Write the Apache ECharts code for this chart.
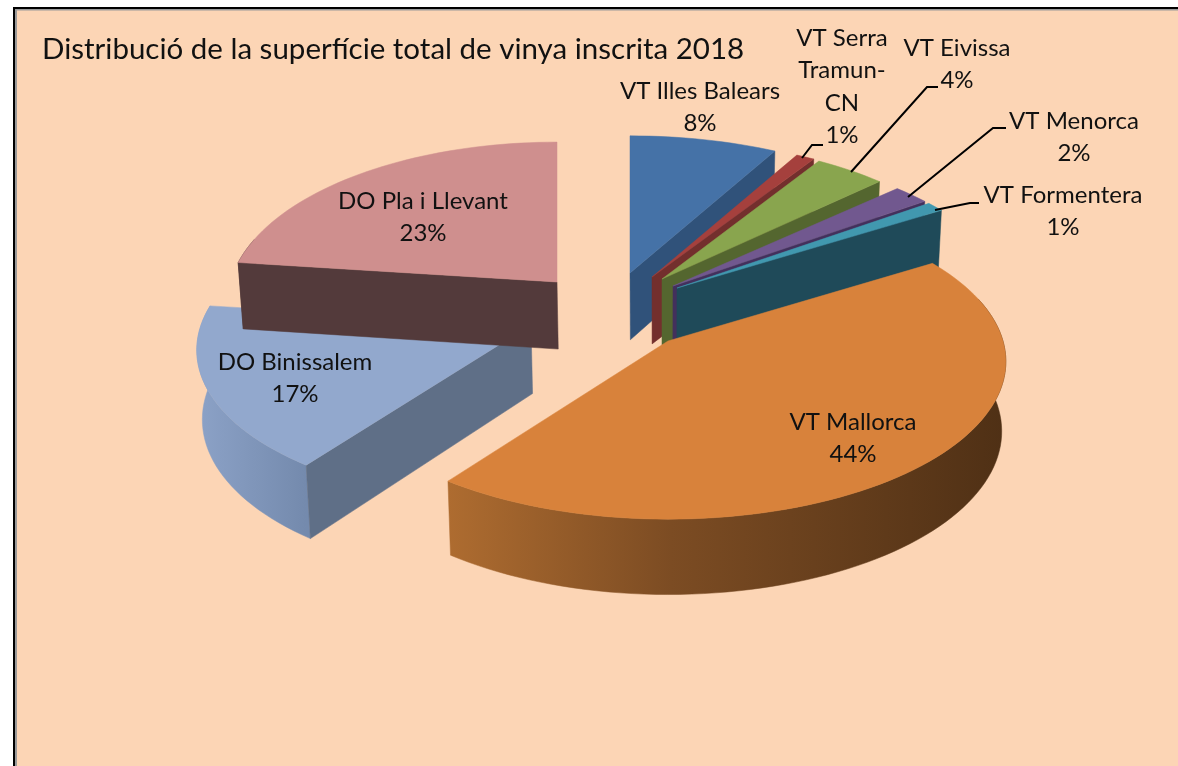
<!DOCTYPE html>
<html><head><meta charset="utf-8">
<style>html,body{margin:0;padding:0;background:#fff}#c{width:1178px;height:766px}</style>
<script src="https://cdn.jsdelivr.net/npm/echarts@6/dist/echarts.min.js"></script>
</head><body><div id="c"></div>
<script>
const titleText = 'Distribució de la superfície total de vinya inscrita 2018';
const categories = ['VT Illes Balears','VT Serra\nTramun-\nCN','VT Eivissa','VT Menorca','VT Formentera','VT Mallorca','DO Binissalem','DO Pla i Llevant'];
const shares = [8,1,4,2,1,44,17,23];

// layout (screen positions of each exploded wedge's apex, label and leader)
const apexX = [630,652,662,673,677,668,531,557];
const apexY = [273,277,279,286,288,341,325,282];
const rxScale = [1,1,0.97,1,1,1,0.985,0.975];
const ryScale = [1,1,1,1,1,1,1,1.02];
const xSkew = [0,0,0,0,0,0,-10,0];
const labelX = [700,842,957,1074,1063,853,295,423];
const labelY = [91,38,48,121,195,422,362,201];
const leaders = [null,[[802,158],[812,145],[823,145]],[[851,172],[927,87],[938,87]],[[908,197],[993,128],[1006,128]],[[935,210],[970,203],[979,203]],null,null,null];
const topColors = ['#4572A7','#A5403D','#89A54E','#71588F','#4198AF','#D8823B','#92A8CD','#CF8F8E'];
const cutColors = ['#30527A','#732F2D','#54662F','#43305C','#1F4A59','#6F4418','#5F6F87','#533A3B'];
const wallColors = [['#30527A','#30527A'],['#732F2D','#732F2D'],['#54662F','#54662F'],['#43305C','#43305C'],['#1F4A59','#1F4A59'],['#AE6C30','#7C4C23','#4F3015'],['#8CA2C7','#748AAD'],['#533A3B','#533A3B']];

const RX = 335, RY = 155, K = 0.13;
const total = shares.reduce((a,b)=>a+b,0);
const starts = []; shares.reduce((a,b,i)=>{starts[i]=a;return a+b;},0);
const angle = t => t/total*2*Math.PI;

function rim(i, t){
  const a = angle(t), X = Math.sin(a), Y = -Math.cos(a), w = 1/(1-K*Y);
  return [apexX[i]+RX*rxScale[i]*X*w+xSkew[i]*Y, apexY[i]+RY*ryScale[i]*Y*w];
}
function drop(p){
  return [p[0]+(660-p[0])*0.012, p[1]+67+0.035*(p[1]-280)];
}
function renderItem(params, api){
  const i = params.dataIndex, v = api.value(0), s = starts[i], n = Math.max(4, Math.ceil(v*2));
  const arc = [], ts = [];
  for(let k=0;k<=n;k++){ const t = s+v*k/n; arc.push(rim(i,t)); ts.push(t); }
  const apex = [apexX[i], apexY[i]];
  const poly = (pts, fill)=>({type:'polygon', shape:{points:pts}, style:{fill:fill, stroke:fill, lineWidth:0.5}, silent:true});
  const first = arc[0], last = arc[n];
  const children = [];
  // only the rim that faces the viewer gets an outer wall
  const front = arc.filter((p,k)=>Math.cos(angle(ts[k])) < 0.3);
  if(front.length > 1){
    const xs = front.map(p=>p[0]), cols = wallColors[i];
    const grad = {type:'linear', x:Math.min(...xs), y:0, x2:Math.max(...xs), y2:0, global:true,
      colorStops:cols.map((c,k)=>({offset:k===1&&cols.length===3?0.4:k/(cols.length-1),color:c}))};
    children.push(poly(front.concat(front.slice().reverse().map(drop)), grad));
  }
  if(Math.sin(angle(s)) < 0) children.push(poly([apex, first, drop(first), drop(apex)], cutColors[i]));
  if(Math.sin(angle(s+v)) > 0) children.push(poly([apex, last, drop(last), drop(apex)], cutColors[i]));
  children.push(poly([apex].concat(arc), topColors[i]));
  if(leaders[i]) children.push({type:'polyline', shape:{points:leaders[i]}, style:{stroke:'#000', lineWidth:2, fill:null}, z2:5, silent:true});
  children.push({type:'text', z2:10, style:{x:labelX[i], y:labelY[i]-16, text:categories[i]+'\n'+v+'%', align:'center', verticalAlign:'top',
    font:'24px Lato', lineHeight:32.5, fill:'#111'}});
  return {type:'group', children};
}

const chart = echarts.init(document.getElementById('c'), null, {renderer:'canvas'});
chart.setOption({
  animation:false,
  backgroundColor:'#fff',
  graphic:{elements:[
    {type:'rect', z:-10, shape:{x:16,y:9,width:1170,height:770}, style:{fill:'#FCD5B5'}},
    {type:'rect', z:-9, shape:{x:13,y:7,width:1170,height:2}, style:{fill:'#000'}},
    {type:'rect', z:-9, shape:{x:13,y:7,width:2,height:770}, style:{fill:'#000'}},
    {type:'rect', z:-9, shape:{x:15,y:9,width:1170,height:1.5}, style:{fill:'#9A9A9A'}},
    {type:'rect', z:-9, shape:{x:15,y:9,width:2,height:770}, style:{fill:'#9A9A9A'}}
  ]},
  title:{text:titleText, left:37, top:29, textStyle:{fontFamily:'Lato', fontSize:29.5, fontWeight:'normal', color:'#111'}},
  series:[{type:'custom', coordinateSystem:'none', silent:true, clip:false, renderItem, data:shares.map(v=>[v])}]
});
</script></body></html>
